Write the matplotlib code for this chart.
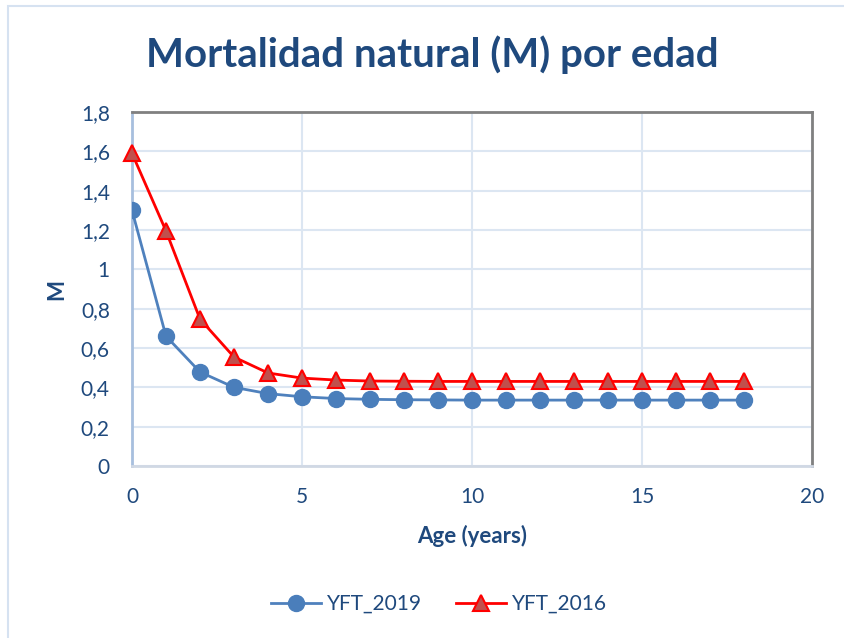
import matplotlib
matplotlib.use("Agg")
import matplotlib.pyplot as plt
from matplotlib.ticker import FuncFormatter, MultipleLocator
from matplotlib.patches import Rectangle

ages = list(range(19))
yft_2019 = [1.30, 0.66, 0.478, 0.40, 0.368, 0.352, 0.343, 0.339, 0.337, 0.336,
            0.335, 0.335, 0.335, 0.335, 0.335, 0.335, 0.335, 0.335, 0.335]
yft_2016 = [1.59, 1.195, 0.747, 0.554, 0.473, 0.447, 0.437, 0.432, 0.431, 0.43,
            0.43, 0.43, 0.43, 0.43, 0.43, 0.43, 0.43, 0.43, 0.43]
series_names = ["YFT_2019", "YFT_2016"]
title = "Mortalidad natural (M) por edad"
xlabel = "Age (years)"
ylabel = "M"

TXT = "#1F497D"
plt.rcParams['font.family'] = ['Lato', 'DejaVu Sans']

fig = plt.figure(figsize=(8.44, 6.38), dpi=100)
fig.patches.append(Rectangle((8/844, -0.1), 2.0, (638-6)/638 + 0.1, transform=fig.transFigure,
                             fill=False, edgecolor="#D6E2F1", linewidth=1.5))

ax = fig.add_axes([132/844, (638-466)/638, 680/844, 354/638])
ax.plot(ages, yft_2019, color="#4F81BD", linewidth=2, marker="o", markersize=11.5,
        markerfacecolor="#4A7EBB", markeredgecolor="#4A7EBB", label=series_names[0], zorder=3)
ax.plot(ages, yft_2016, color="#FF0000", linewidth=2, marker="^", markersize=11.5,
        markerfacecolor="#C0504D", markeredgecolor="#FF0000", markeredgewidth=1.5,
        label=series_names[1], zorder=4, clip_on=False)

ax.set_xlim(0, 20)
ax.set_ylim(0, 1.8)
ax.xaxis.set_major_locator(MultipleLocator(5))
ax.yaxis.set_major_locator(MultipleLocator(0.2))

def fmt(v, pos):
    s = f"{v:.1f}".rstrip("0").rstrip(".")
    return s.replace(".", ",")
ax.yaxis.set_major_formatter(FuncFormatter(fmt))
ax.xaxis.set_major_formatter(FuncFormatter(lambda v, p: f"{int(round(v))}"))

ax.grid(True, color="#DCE6F2", linewidth=1.5)
ax.set_axisbelow(True)
ax.tick_params(length=0, labelsize=15, labelcolor=TXT)
ax.tick_params(axis='x', pad=15)
ax.tick_params(axis='y', pad=16)

ax.spines['top'].set_color("#808080")
ax.spines['right'].set_color("#808080")
ax.spines['top'].set_linewidth(2)
ax.spines['right'].set_linewidth(2)
ax.spines['left'].set_color("#A7BFDE")
ax.spines['left'].set_linewidth(2)
ax.spines['bottom'].set_color("#D0D8E4")
ax.spines['bottom'].set_linewidth(2)

ax.set_xlabel(xlabel, fontsize=16, fontweight="bold", color=TXT, labelpad=13)
ax.set_ylabel(ylabel, fontsize=16, fontweight="bold", color=TXT, labelpad=10)

fig.text(432/844, 1 - 55/638, title, ha="center", va="center", fontsize=29,
         fontweight="bold", color=TXT)

leg = fig.legend(loc="center", bbox_to_anchor=(439/844, 1 - 604/638), ncol=2,
                 frameon=False, fontsize=15, handlelength=2.4, columnspacing=1.6,
                 handletextpad=0.3)
for t in leg.get_texts():
    t.set_color(TXT)

fig.savefig("out.png", dpi=100)
